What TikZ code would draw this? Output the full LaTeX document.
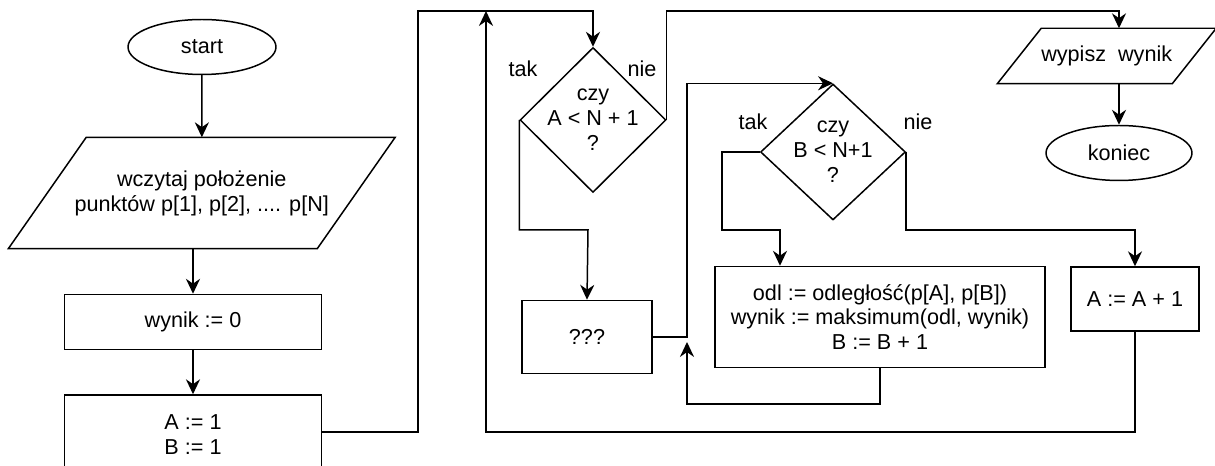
\documentclass[tikz,border=0pt]{standalone}
\usepackage{fontspec}
\setmainfont{Liberation Sans}
\usetikzlibrary{arrows.meta,positioning,shapes.geometric,calc}
\newcommand{\paral}[2]{%
  \draw[line width=0.85pt] ([xshift=-#2]#1.south west) -- ([xshift=#2]#1.north west)
    -- ([xshift=#2]#1.north east) -- ([xshift=-#2]#1.south east) -- cycle;}
\tikzset{
  box/.style={draw, fill=white, align=center, line width=0.85pt, inner sep=2pt,
              font=\fontsize{12.3}{14.2}\selectfont},
  termbox/.style={box, ellipse, inner sep=0pt},
  iobox/.style={box, draw=none, fill=none, inner sep=0pt},
  decbox/.style={box, diamond, inner sep=-5pt},
  ar/.style={-{Stealth[length=8.5pt,width=8pt]}, line width=0.85pt},
  lbl/.style={font=\fontsize{12.3}{14.2}\selectfont}
}

\begin{document}
\begin{tikzpicture}[x=0.02cm,y=0.02cm]
  \useasboundingbox (0,0) rectangle (1215,466);

  % left column
  \node[termbox, minimum width=2.96cm, minimum height=1.1cm] (start) at (202,419) {start};
  \node[iobox, minimum width=6.15cm, minimum height=2.2cm] (wczytaj) at (201.75,273)
    {wczytaj położenie\\punktów p[1], p[2], .... p[N]};
  \paral{wczytaj}{0.78cm}
  \node[box, minimum width=5.14cm, minimum height=1.1cm] (wynik0) at (193,144) {wynik := 0};
  \node[box, minimum width=5.14cm, minimum height=1.6cm] (init) at (193,31) {A := 1\\B := 1};

  % outer loop
  \node[decbox, minimum width=2.92cm, minimum height=2.9cm] (czyA) at (593,346) {czy\\A < N + 1\\?};
  \node[box, minimum width=2.6cm, minimum height=1.46cm] (qqq) at (587,129) {???};
  \node[lbl] (takA) at (523,397) {tak};
  \node[lbl] (nieA) at (642,397) {nie};

  % inner loop
  \node[decbox, minimum width=2.9cm, minimum height=2.72cm] (czyB) at (833,314) {czy\\B < N+1\\?};
  \node[box, minimum width=6.6cm, minimum height=2.02cm] (odl) at (880,149)
    {odl := odległość(p[A], p[B])\\wynik := maksimum(odl, wynik)\\B := B + 1};
  \node[box, minimum width=2.56cm, minimum height=1.28cm] (inc) at (1135,167) {A := A + 1};
  \node[lbl] (takB) at (753,344) {tak};
  \node[lbl] (nieB) at (918,344) {nie};

  % end
  \node[iobox, minimum width=3.47cm, minimum height=1.08cm] (wypisz) at (1106.75,410) {wypisz~~wynik};
  \paral{wypisz}{0.44cm}
  \node[termbox, minimum width=2.92cm, minimum height=1.1cm] (koniec) at (1119,313) {koniec};

  \coordinate (top) at (418,455);
  \coordinate (tak1) at (588,236);
  \coordinate (j2) at (687,129);
  \coordinate (j2b) at (687,124);
  \coordinate (tak2) at (780,236);
  \coordinate (nie2) at (1135,236);
  \coordinate (back) at (486,34);

  \draw[ar] (start) -- (wczytaj);
  \draw[ar] (wynik0.north |- wczytaj.south) -- (wynik0);
  \draw[ar] (wynik0) -- (init);
  \draw[ar] (init.east |- back) -| (top) -| (czyA.north);
  \draw[ar] (czyA.east) -- (czyA.east |- top) -| (wypisz.north -| koniec.north);
  \draw[ar] (czyA.west) |- (tak1) -- (qqq.north);
  \draw[ar] (qqq.east) -- (j2) |- (czyB.north);
  \draw[ar] (czyB.west) -- ++(-38,0) |- (tak2) -- (tak2 |- odl.north);
  \draw[ar] (odl.south) -- ++(0,-36) -| (j2b);
  \draw[ar] (czyB.east) |- (nie2) -- (inc.north);
  \draw[ar] (inc.south) |- (back) -- (back |- top);
  \draw[ar] (koniec.north |- wypisz.south) -- (koniec.north);
\end{tikzpicture}
\end{document}
